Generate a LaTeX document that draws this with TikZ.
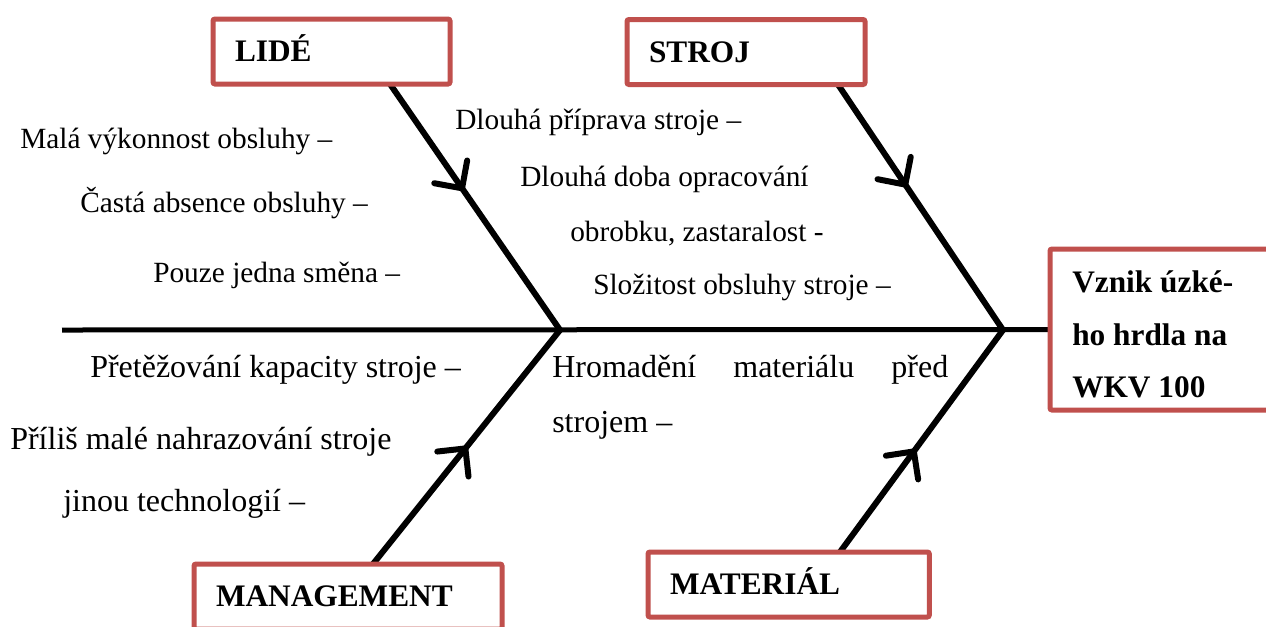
\documentclass[tikz,border=0pt]{standalone}
\usepackage{fontspec}
\setmainfont{Liberation Serif}
\usetikzlibrary{arrows.meta,decorations.markings,backgrounds}
\definecolor{boxred}{RGB}{192,80,77}
\begin{document}
\begin{tikzpicture}[x=0.75pt,y=-0.75pt,
  cause/.style={anchor=base west,inner sep=0pt,font=\fontsize{22}{26}\selectfont},
  lowcause/.style={cause,font=\fontsize{24}{28}\selectfont},
  catbox/.style={draw=boxred,line width=3.75pt,fill=white,rounded corners=1.5pt,
    anchor=north west,outer sep=0pt,minimum height=48.75pt,inner xsep=16.5pt,
    inner ysep=0pt,align=left,text width=#1,text height=15.5pt,text depth=0pt,
    font=\bfseries\fontsize{23.5}{28}\selectfont},
  effline/.style={anchor=base west,inner sep=0pt,font=\bfseries\fontsize{23.5}{28}\selectfont},
  spine/.style={line width=3.75pt},
  bone/.style={line width=4.5pt,line cap=round},
  barb/.tip={Straight Barb[length=15pt,width=30pt,round]},
  arrowmid/.style={postaction={decorate},
    decoration={markings,mark=at position #1 with {\arrow{barb}}}}]
\useasboundingbox (0,0) rectangle (1266,626);

% category boxes and the effect box
\node[catbox=144.75pt] (lide)  at (213,19)   {LIDÉ};
\node[catbox=145.5pt]  (stroj) at (627,19.5) {STROJ};
\node[catbox=198pt]    (mgmt)  at (194,564)  {MANAGEMENT};
\node[catbox=178pt]    (mat)   at (648,552)  {MATERIÁL};
\node[draw=boxred,line width=3.75pt,fill=white,rounded corners=1.5pt,anchor=north west,
  outer sep=0pt,inner sep=0pt,minimum width=180pt,minimum height=120.75pt]
  (effect) at (1050,249) {};
\node[effline] (eff1) at (1072,292) {Vznik úzké-};
\node[effline] (eff2) at (1072,345) {ho hrdla na};
\node[effline] (eff3) at (1072,397) {WKV 100};

% spine and bones
\coordinate (tail) at (62,330);
\coordinate (j1) at (560,330);
\coordinate (j2) at (1003,330);
\begin{pgfonlayer}{background}
  \draw[spine] (tail) -- (effect.west);
  \draw[bone,arrowmid=0.434] (390,0 |- lide.south) -- (j1);
  \draw[bone,arrowmid=0.418] (838,0 |- stroj.south) -- (j2);
  \draw[bone,arrowmid=0.504] (373,0 |- mgmt.north) -- (j1);
  \draw[bone,arrowmid=0.464] (840,0 |- mat.north) -- (j2);
\end{pgfonlayer}

% causes: people
\node[cause] (c1) at (20,148)  {Malá výkonnost obsluhy –};
\node[cause] (c2) at (80,212)  {Častá absence obsluhy –};
\node[cause] (c3) at (153,282) {Pouze jedna směna –};
% causes: machine
\node[cause] (s1) at (455,129) {Dlouhá příprava stroje –};
\node[cause] (s2) at (520,186) {Dlouhá doba opracování};
\node[cause] (s3) at (570,241) {obrobku, zastaralost -};
\node[cause] (s4) at (593,294) {Složitost obsluhy stroje –};
% causes: management
\node[lowcause] (m1) at (90,377)  {Přetěžování kapacity stroje –};
\node[lowcause] (m2) at (10,449)  {Příliš malé nahrazování stroje};
\node[lowcause] (m3) at (63,511)  {jinou technologií –};
% causes: material
\node[lowcause] (t1) at (552,377) {\makebox[297pt][s]{Hromadění materiálu před}};
\node[lowcause] (t2) at (552,432) {strojem –};
\end{tikzpicture}
\end{document}
